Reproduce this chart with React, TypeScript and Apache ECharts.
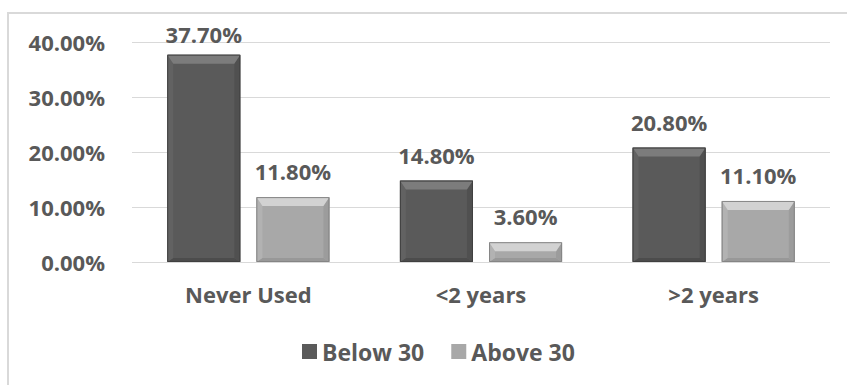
import React, { useEffect, useRef } from "react";
import * as echarts from "echarts";

// Usage period categories and the share of respondents in each age group
const categories = ["Never Used", "<2 years", ">2 years"];
const below30 = [37.7, 14.8, 20.8];
const above30 = [11.8, 3.6, 11.1];
const yTicks = [0, 10, 20, 30, 40];

const FONT = '"Open Sans", "Noto Sans", sans-serif';
const TEXT = "#595959";

type Shade = { face: string; top: string; bottom: string; left: string; right: string; edge: string };

const darkShade: Shade = {
  face: "#5a5a5a",
  top: "#7c7c7c",
  bottom: "#4c4c4c",
  left: "#626262",
  right: "#505050",
  edge: "#404040",
};
const lightShade: Shade = {
  face: "#a8a8a8",
  top: "#d2d2d2",
  bottom: "#989898",
  left: "#b2b2b2",
  right: "#9c9c9c",
  edge: "#858585",
};

// Bevelled bar drawn with a custom series; side = -1 for left bar, +1 for right bar
function bevelBar(side: number, shade: Shade) {
  return (params: any, api: any) => {
    const cat = api.value(0);
    const v = api.value(1);
    const base = api.coord([cat, 0]);
    const top = api.coord([cat, v]);
    const band = api.size([1, 0])[0];
    const bw = band * 0.314;
    const gap = bw * 0.22;
    const cx = base[0] + (side * (bw + gap)) / 2;
    const x0 = cx - bw / 2;
    const x1 = cx + bw / 2;
    const y0 = top[1];
    const y1 = base[1];
    const h = y1 - y0;
    const bt = Math.min(9, h / 2);
    const bb = Math.min(4, h / 2);
    const s = Math.min(6, bw / 2);
    const labelY = Math.max(y0 - 26, 34);
    return {
      type: "group",
      children: [
        { type: "rect", shape: { x: x0, y: y0, width: bw, height: h }, style: { fill: shade.face } },
        {
          type: "polygon",
          shape: { points: [[x0, y1], [x1, y1], [x1 - s, y1 - bb], [x0 + s, y1 - bb]] },
          style: { fill: shade.bottom },
        },
        {
          type: "polygon",
          shape: { points: [[x0, y0], [x0 + s, y0 + bt], [x0 + s, y1 - bb], [x0, y1]] },
          style: { fill: shade.left },
        },
        {
          type: "polygon",
          shape: { points: [[x1, y0], [x1 - s, y0 + bt], [x1 - s, y1 - bb], [x1, y1]] },
          style: { fill: shade.right },
        },
        {
          type: "polygon",
          shape: { points: [[x0, y0], [x1, y0], [x1 - s, y0 + bt], [x0 + s, y0 + bt]] },
          style: { fill: shade.top },
        },
        {
          type: "rect",
          shape: { x: x0 + 0.5, y: y0 + 0.5, width: bw - 1, height: h - 1 },
          style: { fill: "none", stroke: shade.edge, lineWidth: 1 },
        },
        {
          type: "text",
          style: {
            text: `${v.toFixed(2)}%`,
            x: cx,
            y: labelY,
            align: "center",
            verticalAlign: "middle",
            fontFamily: FONT,
            fontWeight: "bold",
            fontSize: 22,
            fill: TEXT,
          },
        },
      ],
    };
  };
}

export default function App() {
  const ref = useRef<HTMLDivElement>(null);

  useEffect(() => {
    if (!ref.current) return;
    const chart = echarts.init(ref.current, undefined, { renderer: "svg" });
    chart.setOption({
      animation: false,
      backgroundColor: "#ffffff",
      graphic: [
        {
          type: "rect",
          shape: { x: 8, y: 13, width: 860, height: 400 },
          style: { fill: "none", stroke: "#d9d9d9", lineWidth: 2 },
          silent: true,
          z: -1,
        },
      ],
      grid: { left: 132, right: 17, top: 42, bottom: 123 },
      legend: {
        left: 297,
        top: 335,
        itemWidth: 15,
        itemHeight: 15,
        itemGap: 27,
        icon: "rect",
        data: ["Below 30", "Above 30"],
        textStyle: { fontFamily: FONT, fontWeight: "bold", fontSize: 23, color: TEXT, padding: [0, 0, 0, 0] },
      },
      xAxis: {
        type: "category",
        data: categories,
        axisLine: { show: false },
        axisTick: { show: false },
        axisLabel: { margin: 21, fontFamily: FONT, fontWeight: "bold", fontSize: 22, color: TEXT },
      },
      yAxis: {
        type: "value",
        min: 0,
        max: yTicks[yTicks.length - 1],
        interval: 10,
        axisLine: { show: false },
        axisTick: { show: false },
        splitLine: { lineStyle: { color: "#d9d9d9", width: 1 } },
        axisLabel: {
          margin: 27,
          fontFamily: FONT,
          fontWeight: "bold",
          fontSize: 22,
          color: TEXT,
          formatter: (v: number) => `${v.toFixed(2)}%`,
        },
      },
      series: [
        {
          name: "Below 30",
          type: "custom",
          itemStyle: { color: darkShade.face },
          encode: { x: 0, y: 1 },
          data: below30.map((v, i) => [i, v]),
          renderItem: bevelBar(-1, darkShade),
        },
        {
          name: "Above 30",
          type: "custom",
          itemStyle: { color: lightShade.face },
          encode: { x: 0, y: 1 },
          data: above30.map((v, i) => [i, v]),
          renderItem: bevelBar(1, lightShade),
        },
      ],
    });
    return () => chart.dispose();
  }, []);

  return (
    <div
      ref={ref}
      style={{ position: "absolute", left: 0, top: 0, width: 847, height: 385 }}
    />
  );
}
